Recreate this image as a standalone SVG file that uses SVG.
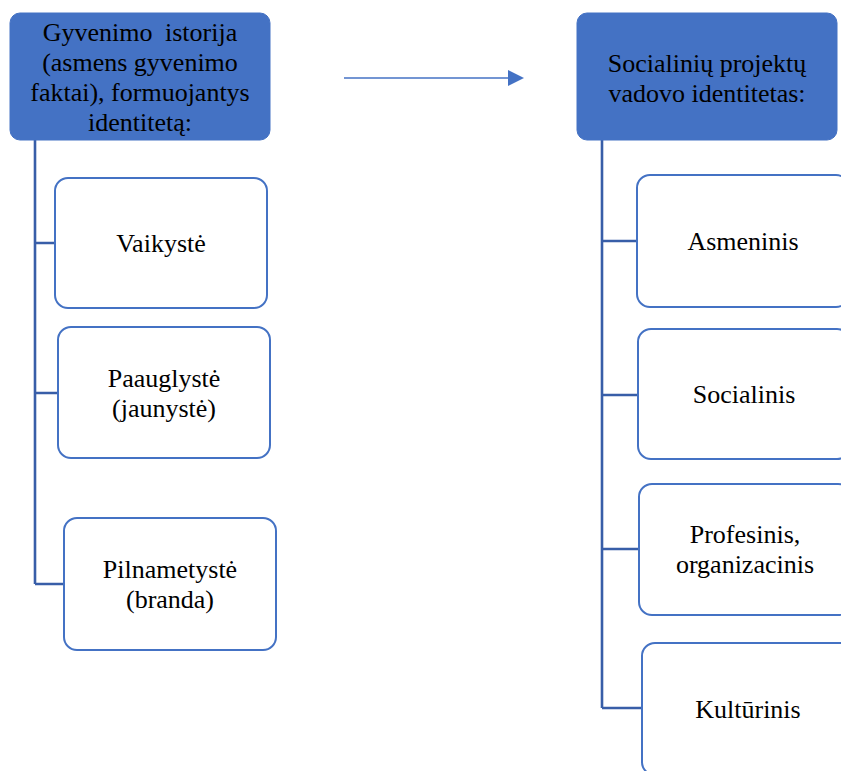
<svg xmlns="http://www.w3.org/2000/svg" width="841" height="771" viewBox="0 0 841 771">
<style>
.hdr{fill:#4472C4;stroke:#4472C4;stroke-width:1}
.box{fill:#FFFFFF;stroke:#4472C4;stroke-width:2}
.t{font-family:"Liberation Serif","Times New Roman",serif;font-size:26px;fill:#000;text-anchor:middle}
.con{stroke:#385EA8;stroke-width:2.6;fill:none}
</style>
<rect width="841" height="771" fill="#FFFFFF"/>
<g id="connectors">
<path class="con" d="M35,140 V584 M35,243 H55 M35,393 H58 M35,584 H64"/>
<path class="con" d="M602,140 V708 M602,241 H637 M602,395 H638 M602,549 H639 M602,708 H642"/>
<line x1="344" y1="78" x2="508" y2="78" stroke="#4472C4" stroke-width="1.5"/>
<polygon points="508,70 524,78 508,86" fill="#4472C4"/>
</g>
<g id="left-header">
<rect class="hdr" x="10" y="13" width="260" height="127" rx="10"/>
<text class="t" x="140" y="41" word-spacing="6">Gyvenimo istorija</text>
<text class="t" x="140" y="71">(asmens gyvenimo</text>
<text class="t" x="140" y="101">faktai), formuojantys</text>
<text class="t" x="140" y="131">identitetą:</text>
</g>
<g id="vaikyste">
<rect class="box" x="55" y="178" width="212" height="130" rx="13"/>
<text class="t" x="161" y="252">Vaikystė</text>
</g>
<g id="paauglyste">
<rect class="box" x="58" y="327" width="212" height="131" rx="13"/>
<text class="t" x="164" y="387">Paauglystė</text>
<text class="t" x="164" y="417">(jaunystė)</text>
</g>
<g id="pilnametyste">
<rect class="box" x="64" y="518" width="212" height="132" rx="13"/>
<text class="t" x="170" y="578">Pilnametystė</text>
<text class="t" x="170" y="608">(branda)</text>
</g>
<g id="right-header">
<rect class="hdr" x="577" y="13" width="260" height="127" rx="10"/>
<text class="t" x="707" y="72">Socialinių projektų</text>
<text class="t" x="707" y="102">vadovo identitetas:</text>
</g>
<g id="asmeninis">
<rect class="box" x="637" y="175" width="212" height="132" rx="13"/>
<text class="t" x="743" y="250">Asmeninis</text>
</g>
<g id="socialinis">
<rect class="box" x="638" y="329" width="212" height="130" rx="13"/>
<text class="t" x="744" y="403">Socialinis</text>
</g>
<g id="profesinis">
<rect class="box" x="639" y="484" width="212" height="131" rx="13"/>
<text class="t" x="745" y="543">Profesinis,</text>
<text class="t" x="745" y="573">organizacinis</text>
</g>
<g id="kulturinis">
<rect class="box" x="642" y="643" width="212" height="132" rx="13"/>
<text class="t" x="748" y="718">Kultūrinis</text>
</g>
</svg>
